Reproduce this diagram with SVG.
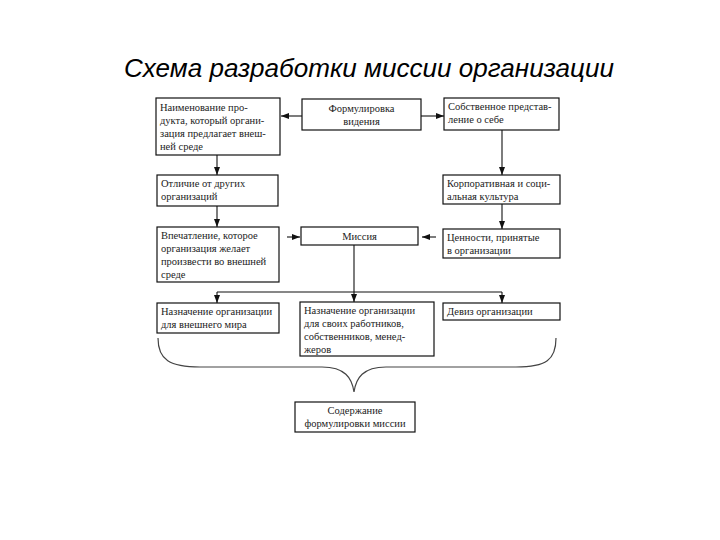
<svg xmlns="http://www.w3.org/2000/svg" width="720" height="540" viewBox="0 0 720 540">
<style>
.box{fill:#fff;stroke:#111;stroke-width:1.2}
.t{font-family:'Liberation Serif','DejaVu Serif',serif;font-size:10.5px;fill:#222}
.c{text-anchor:middle}
.ln{fill:none;stroke:#111;stroke-width:1.1}
.title{font-family:'Liberation Sans',Arial,sans-serif;font-style:italic;font-size:25px;fill:#000}
</style>
<defs>
<marker id="ah" viewBox="0 0 8 6" refX="8" refY="3" markerWidth="8" markerHeight="6" markerUnits="userSpaceOnUse" orient="auto">
<path d="M0,0 L8,3 L0,6 Z" fill="#111"/>
</marker>
</defs>
<rect width="720" height="540" fill="#fff"/>
<text class="title" x="369" y="77" text-anchor="middle" textLength="490" lengthAdjust="spacingAndGlyphs">Схема разработки миссии организации</text>

<g id="connectors">
<line class="ln" x1="302" y1="116" x2="281" y2="116" marker-end="url(#ah)"/>
<line class="ln" x1="421" y1="116" x2="444" y2="116" marker-end="url(#ah)"/>
<line class="ln" x1="217" y1="155" x2="217" y2="175" marker-end="url(#ah)"/>
<line class="ln" x1="217" y1="206" x2="217" y2="227" marker-end="url(#ah)"/>
<line class="ln" x1="502" y1="130" x2="502" y2="175" marker-end="url(#ah)"/>
<line class="ln" x1="502" y1="204" x2="502" y2="229" marker-end="url(#ah)"/>
<line class="ln" x1="287" y1="237" x2="300" y2="237" marker-end="url(#ah)"/>
<line class="ln" x1="436" y1="237" x2="422" y2="237" marker-end="url(#ah)"/>
<line class="ln" x1="354" y1="245" x2="354" y2="292"/>
<line class="ln" x1="217" y1="292" x2="502" y2="292"/>
<line class="ln" x1="217" y1="292" x2="217" y2="303" marker-end="url(#ah)"/>
<line class="ln" x1="354" y1="292" x2="354" y2="302" marker-end="url(#ah)"/>
<line class="ln" x1="502" y1="292" x2="502" y2="303" marker-end="url(#ah)"/>
<path d="M158,338 C158,360 170,367 200,367 L322,367 C345,367 352,378 354,392 C356,378 363,367 386,367 L516,367 C546,367 556,360 556,338" fill="none" stroke="#444" stroke-width="1.2"/>
</g>

<g id="n1">
<rect class="box" x="156" y="98" width="124" height="57"/>
<text class="t" font-family="Liberation Serif, serif" x="160" y="111">Наименование про-</text>
<text class="t" font-family="Liberation Serif, serif" x="160" y="124">дукта, который органи-</text>
<text class="t" font-family="Liberation Serif, serif" x="160" y="137">зация предлагает внеш-</text>
<text class="t" font-family="Liberation Serif, serif" x="160" y="150">ней среде</text>
</g>
<g id="n2">
<rect class="box" x="302" y="99" width="119" height="31"/>
<text class="t c" x="361.5" y="112">Формулировка</text>
<text class="t c" x="361.5" y="125">видения</text>
</g>
<g id="n3">
<rect class="box" x="444" y="98" width="115" height="32"/>
<text class="t" x="448" y="110">Собственное представ-</text>
<text class="t" x="448" y="123">ление о себе</text>
</g>
<g id="n4">
<rect class="box" x="157" y="175" width="121" height="31"/>
<text class="t" x="161" y="187">Отличие от других</text>
<text class="t" x="161" y="200">организаций</text>
</g>
<g id="n5">
<rect class="box" x="157" y="227" width="122" height="55"/>
<text class="t" x="161" y="239">Впечатление, которое</text>
<text class="t" x="161" y="252">организация желает</text>
<text class="t" x="161" y="265">произвести во внешней</text>
<text class="t" x="161" y="278">среде</text>
</g>
<g id="n6">
<rect class="box" x="443" y="175" width="117" height="29"/>
<text class="t" x="447" y="187">Корпоративная и соци-</text>
<text class="t" x="447" y="200">альная культура</text>
</g>
<g id="n7">
<rect class="box" x="443" y="229" width="117" height="29"/>
<text class="t" x="447" y="241">Ценности, принятые</text>
<text class="t" x="447" y="254">в организации</text>
</g>
<g id="n8">
<rect class="box" x="301" y="227" width="117" height="18"/>
<text class="t c" x="359.5" y="240">Миссия</text>
</g>
<g id="n9">
<rect class="box" x="157" y="303" width="122" height="30"/>
<text class="t" x="161" y="315">Назначение организации</text>
<text class="t" x="161" y="328">для внешнего мира</text>
</g>
<g id="n10">
<rect class="box" x="300" y="302" width="134" height="54"/>
<text class="t" x="304" y="314">Назначение организации</text>
<text class="t" x="304" y="327">для своих работников,</text>
<text class="t" x="304" y="340">собственников, менед-</text>
<text class="t" x="304" y="353">жеров</text>
</g>
<g id="n11">
<rect class="box" x="443" y="303" width="117" height="17"/>
<text class="t" x="447" y="315">Девиз организации</text>
</g>
<g id="n12">
<rect class="box" x="295" y="402" width="120" height="30"/>
<text class="t c" x="355" y="414">Содержание</text>
<text class="t c" x="355" y="427">формулировки миссии</text>
</g>
</svg>
